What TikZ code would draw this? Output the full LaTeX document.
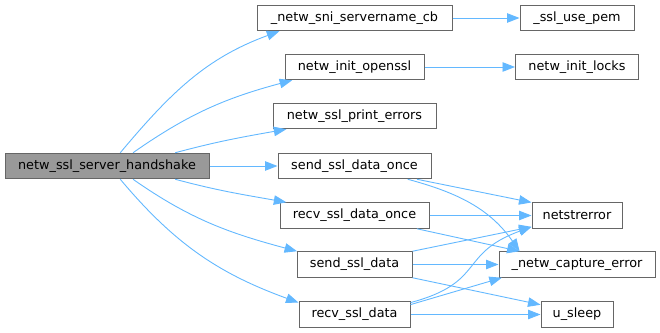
\documentclass[tikz,border=0pt]{standalone}
\usepackage{fontspec}
\setmainfont{DejaVu Sans}
\usepackage{xcolor}
\usepackage{tikz}
\usetikzlibrary{arrows.meta,positioning}

\definecolor{edgeblue}{HTML}{63B8FF}
\definecolor{boxgray}{HTML}{666666}
\definecolor{mainfill}{HTML}{999999}

\begin{document}
\begin{tikzpicture}[
    x=1pt, y=1pt,
    box/.style={rectangle, draw=boxgray, fill=white, line width=1pt, minimum height=25.5pt,
        inner sep=0pt, font=\fontsize{12.8}{14}\selectfont},
    mainbox/.style={box, fill=mainfill},
    arrow/.style={-{Triangle[length=12.5pt,width=9.5pt]}, draw=edgeblue, line width=0.9pt}
]
\useasboundingbox (0,0) rectangle (660,332);

\node[mainbox, minimum width=204pt] (main) at (107,166) {netw\_ssl\_server\_handshake};

\node[box, minimum width=195pt] (sni) at (354.5,314) {\_netw\_sni\_servername\_cb};
\node[box, minimum width=139pt] (initssl) at (354.5,265) {netw\_init\_openssl};
\node[box, minimum width=163pt] (printerr) at (354.5,216) {netw\_ssl\_print\_errors};
\node[box, minimum width=153pt] (sendonce) at (354.5,166) {send\_ssl\_data\_once};
\node[box, minimum width=149pt] (recvonce) at (354.5,116.5) {recv\_ssl\_data\_once};
\node[box, minimum width=115pt] (senddata) at (354.5,67.5) {send\_ssl\_data};
\node[box, minimum width=111pt] (recvdata) at (354.5,17.5) {recv\_ssl\_data};

\node[box, minimum width=114pt] (usepem) at (577,314) {\_ssl\_use\_pem};
\node[box, minimum width=123pt] (initlocks) at (577,265) {netw\_init\_locks};
\node[box, minimum width=90pt] (strerr) at (577,116.5) {netstrerror};
\node[box, minimum width=156pt] (capture) at (577,67.5) {\_netw\_capture\_error};
\node[box, minimum width=72pt] (usleep) at (577,17.5) {u\_sleep};

% calls from the handshake
\draw[arrow] (main.45) to[out=50, in=200] (sni.190);
\draw[arrow] (main.27) to[out=35, in=195] (initssl.192);
\draw[arrow] (main.11) to[out=15, in=190] (printerr.191);
\draw[arrow] (main.east) -- (sendonce.west);
\draw[arrow] (main.-11) to[out=-15, in=170] (recvonce.169);
\draw[arrow] (main.-27) to[out=-35, in=165] (senddata.167);
\draw[arrow] (main.-45) to[out=-50, in=160] (recvdata.168);

% second level
\draw[arrow] (sni.east) -- (usepem.west);
\draw[arrow] (initssl.east) -- (initlocks.west);
\draw[arrow] (sendonce.-12) -- (strerr.164);
\draw[arrow] (sendonce.-14) to[out=-15, in=125] (capture.167);
\draw[arrow] (recvonce.east) -- (strerr.west);
\draw[arrow] (recvonce.-12) -- (capture.167);
\draw[arrow] (senddata.north east) -- (strerr.194);
\draw[arrow] (senddata.east) -- (capture.west);
\draw[arrow] (senddata.south east) -- (usleep.165);
\draw[arrow] (recvdata.12) to[out=15, in=200, looseness=1.4] (strerr.194);
\draw[arrow] (recvdata.10) -- (capture.190);
\draw[arrow] (recvdata.east) -- (usleep.west);
\end{tikzpicture}
\end{document}
